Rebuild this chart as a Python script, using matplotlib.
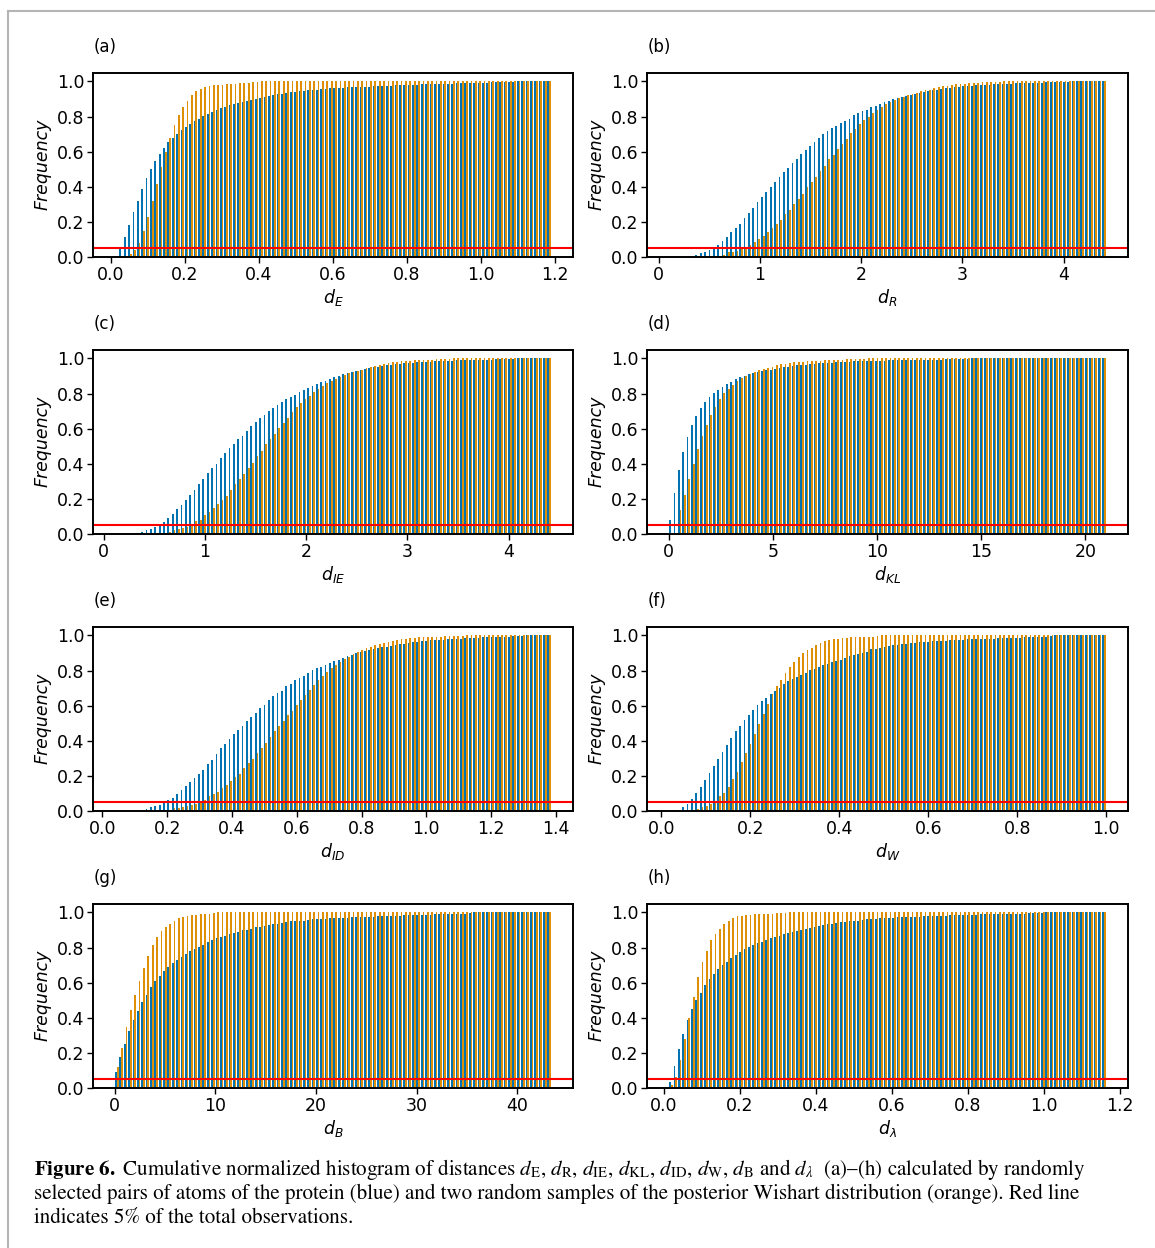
import numpy as np
import matplotlib
matplotlib.use("Agg")
import matplotlib.pyplot as plt
from matplotlib.lines import Line2D

# Cumulative normalized histograms (100 bins).
# blue = protein pairs, orange = posterior Wishart samples

# (a) d_E
a_range = (0.01, 1.19)
a_ticks = [0.0, 0.2, 0.4, 0.6, 0.8, 1.0, 1.2]
a_blue = [0.005, 0.047, 0.112, 0.180, 0.254, 0.320, 0.385, 0.448, 0.500, 0.545,
          0.585, 0.620, 0.652, 0.680, 0.703, 0.724, 0.740, 0.758, 0.774, 0.788,
          0.802, 0.815, 0.827, 0.838, 0.848, 0.856, 0.864, 0.871, 0.878, 0.885,
          0.891, 0.896, 0.902, 0.907, 0.912, 0.917, 0.921, 0.926, 0.930, 0.934,
          0.938, 0.941, 0.944, 0.947, 0.950, 0.952, 0.954, 0.956, 0.958, 0.960,
          0.962, 0.963, 0.964, 0.966, 0.967, 0.968, 0.969, 0.970, 0.971, 0.972,
          0.973, 0.974, 0.975, 0.976, 0.977, 0.978, 0.979, 0.980, 0.981, 0.982,
          0.983, 0.984, 0.985, 0.985, 0.986, 0.987, 0.988, 0.988, 0.989, 0.990,
          0.991, 0.991, 0.992, 0.993, 0.993, 0.994, 0.995, 0.996, 0.996, 0.997,
          0.998, 0.999, 1.000, 1.000, 1.000, 1.000, 1.000, 1.000, 1.000, 1.000]
a_orange = [0.000, 0.000, 0.000, 0.015, 0.040, 0.080, 0.146, 0.228, 0.320, 0.415,
            0.512, 0.597, 0.675, 0.750, 0.806, 0.852, 0.890, 0.920, 0.943, 0.958,
            0.967, 0.973, 0.977, 0.980, 0.982, 0.983, 0.985, 0.987, 0.990, 0.992,
            0.994, 0.996, 0.998, 1.000, 1.000, 1.000, 1.000, 1.000, 1.000, 1.000,
            1.000, 1.000, 1.000, 1.000, 1.000, 1.000, 1.000, 1.000, 1.000, 1.000,
            1.000, 1.000, 1.000, 1.000, 1.000, 1.000, 1.000, 1.000, 1.000, 1.000,
            1.000, 1.000, 1.000, 1.000, 1.000, 1.000, 1.000, 1.000, 1.000, 1.000,
            1.000, 1.000, 1.000, 1.000, 1.000, 1.000, 1.000, 1.000, 1.000, 1.000,
            1.000, 1.000, 1.000, 1.000, 1.000, 1.000, 1.000, 1.000, 1.000, 1.000,
            1.000, 1.000, 1.000, 1.000, 1.000, 1.000, 1.000, 1.000, 1.000, 1.000]

# (b) d_R
b_range = (0.10, 4.42)
b_ticks = [0, 1, 2, 3, 4]
b_blue = [0.000, 0.000, 0.000, 0.000, 0.000, 0.005, 0.008, 0.022, 0.028, 0.038,
          0.050, 0.066, 0.090, 0.112, 0.140, 0.163, 0.185, 0.220, 0.249, 0.277,
          0.311, 0.342, 0.368, 0.397, 0.425, 0.453, 0.482, 0.509, 0.533, 0.560,
          0.588, 0.611, 0.634, 0.655, 0.676, 0.698, 0.715, 0.732, 0.748, 0.761,
          0.774, 0.787, 0.806, 0.820, 0.829, 0.840, 0.852, 0.860, 0.871, 0.880,
          0.890, 0.898, 0.905, 0.911, 0.918, 0.924, 0.930, 0.935, 0.941, 0.945,
          0.949, 0.953, 0.956, 0.960, 0.964, 0.968, 0.970, 0.972, 0.973, 0.975,
          0.977, 0.979, 0.981, 0.982, 0.984, 0.985, 0.986, 0.987, 0.988, 0.989,
          0.990, 0.991, 0.992, 0.993, 0.993, 0.994, 0.995, 0.996, 0.997, 0.997,
          0.998, 0.999, 1.000, 1.000, 1.000, 1.000, 1.000, 1.000, 1.000, 1.000]
b_orange = [0.000, 0.000, 0.000, 0.000, 0.000, 0.000, 0.000, 0.000, 0.000, 0.000,
            0.000, 0.005, 0.010, 0.025, 0.027, 0.030, 0.042, 0.049, 0.065, 0.083,
            0.100, 0.118, 0.142, 0.163, 0.186, 0.209, 0.243, 0.266, 0.300, 0.330,
            0.360, 0.398, 0.425, 0.457, 0.490, 0.520, 0.556, 0.583, 0.613, 0.645,
            0.674, 0.706, 0.730, 0.759, 0.778, 0.797, 0.822, 0.839, 0.854, 0.869,
            0.880, 0.892, 0.903, 0.913, 0.920, 0.928, 0.935, 0.943, 0.949, 0.954,
            0.960, 0.966, 0.972, 0.975, 0.979, 0.983, 0.985, 0.987, 0.990, 0.992,
            0.994, 0.995, 0.996, 0.997, 0.998, 0.999, 1.000, 1.000, 1.000, 1.000,
            1.000, 1.000, 1.000, 1.000, 1.000, 1.000, 1.000, 1.000, 1.000, 1.000,
            1.000, 1.000, 1.000, 1.000, 1.000, 1.000, 1.000, 1.000, 1.000, 1.000]

# (c) d_IE
c_range = (0.11, 4.42)
c_ticks = [0, 1, 2, 3, 4]
c_blue = [0.000, 0.000, 0.000, 0.000, 0.000, 0.005, 0.007, 0.022, 0.027, 0.038,
          0.051, 0.066, 0.090, 0.114, 0.140, 0.161, 0.190, 0.220, 0.250, 0.283,
          0.311, 0.344, 0.374, 0.400, 0.433, 0.460, 0.488, 0.512, 0.539, 0.560,
          0.584, 0.617, 0.636, 0.660, 0.679, 0.698, 0.717, 0.734, 0.751, 0.767,
          0.778, 0.793, 0.808, 0.822, 0.831, 0.844, 0.854, 0.865, 0.873, 0.884,
          0.894, 0.901, 0.909, 0.915, 0.922, 0.928, 0.934, 0.939, 0.943, 0.949,
          0.953, 0.956, 0.960, 0.964, 0.968, 0.970, 0.972, 0.973, 0.975, 0.977,
          0.979, 0.980, 0.981, 0.983, 0.985, 0.986, 0.987, 0.988, 0.989, 0.989,
          0.990, 0.991, 0.991, 0.992, 0.992, 0.993, 0.994, 0.995, 0.996, 0.997,
          0.998, 0.999, 1.000, 1.000, 1.000, 1.000, 1.000, 1.000, 1.000, 1.000]
c_orange = [0.000, 0.000, 0.000, 0.000, 0.000, 0.000, 0.000, 0.000, 0.000, 0.000,
            0.000, 0.004, 0.008, 0.020, 0.025, 0.034, 0.040, 0.051, 0.072, 0.080,
            0.104, 0.123, 0.144, 0.167, 0.190, 0.216, 0.249, 0.281, 0.311, 0.338,
            0.374, 0.406, 0.442, 0.474, 0.510, 0.539, 0.569, 0.602, 0.630, 0.662,
            0.693, 0.721, 0.748, 0.770, 0.787, 0.810, 0.827, 0.844, 0.860, 0.873,
            0.884, 0.894, 0.905, 0.915, 0.922, 0.930, 0.937, 0.945, 0.953, 0.958,
            0.964, 0.970, 0.973, 0.977, 0.981, 0.983, 0.985, 0.987, 0.989, 0.990,
            0.992, 0.993, 0.994, 0.995, 0.996, 0.997, 0.998, 1.000, 1.000, 1.000,
            1.000, 1.000, 1.000, 1.000, 1.000, 1.000, 1.000, 1.000, 1.000, 1.000,
            1.000, 1.000, 1.000, 1.000, 1.000, 1.000, 1.000, 1.000, 1.000, 1.000]

# (d) d_KL
d_range = (0.0, 21.0)
d_ticks = [0, 5, 10, 15, 20]
d_blue = [0.078, 0.233, 0.362, 0.465, 0.550, 0.619, 0.670, 0.715, 0.750, 0.778,
          0.801, 0.822, 0.839, 0.852, 0.867, 0.880, 0.892, 0.901, 0.909, 0.916,
          0.922, 0.928, 0.934, 0.937, 0.941, 0.945, 0.949, 0.953, 0.956, 0.960,
          0.962, 0.965, 0.968, 0.970, 0.972, 0.973, 0.974, 0.975, 0.977, 0.979,
          0.981, 0.982, 0.983, 0.984, 0.984, 0.985, 0.986, 0.987, 0.988, 0.988,
          0.989, 0.989, 0.990, 0.990, 0.990, 0.990, 0.991, 0.991, 0.991, 0.992,
          0.992, 0.993, 0.994, 0.995, 0.995, 0.996, 0.997, 0.998, 0.999, 1.000,
          1.000, 1.000, 1.000, 1.000, 1.000, 1.000, 1.000, 1.000, 1.000, 1.000,
          1.000, 1.000, 1.000, 1.000, 1.000, 1.000, 1.000, 1.000, 1.000, 1.000,
          1.000, 1.000, 1.000, 1.000, 1.000, 1.000, 1.000, 1.000, 1.000, 1.000]
d_orange = [0.000, 0.000, 0.135, 0.220, 0.310, 0.400, 0.482, 0.556, 0.619, 0.675,
            0.721, 0.767, 0.801, 0.826, 0.848, 0.869, 0.886, 0.900, 0.911, 0.922,
            0.932, 0.939, 0.947, 0.954, 0.960, 0.966, 0.970, 0.974, 0.977, 0.980,
            0.982, 0.984, 0.986, 0.987, 0.988, 0.990, 0.991, 0.992, 0.993, 0.994,
            0.995, 0.996, 0.997, 0.998, 0.999, 1.000, 1.000, 1.000, 1.000, 1.000,
            1.000, 1.000, 1.000, 1.000, 1.000, 1.000, 1.000, 1.000, 1.000, 1.000,
            1.000, 1.000, 1.000, 1.000, 1.000, 1.000, 1.000, 1.000, 1.000, 1.000,
            1.000, 1.000, 1.000, 1.000, 1.000, 1.000, 1.000, 1.000, 1.000, 1.000,
            1.000, 1.000, 1.000, 1.000, 1.000, 1.000, 1.000, 1.000, 1.000, 1.000,
            1.000, 1.000, 1.000, 1.000, 1.000, 1.000, 1.000, 1.000, 1.000, 1.000]

# (e) d_ID
e_range = (0.038, 1.386)
e_ticks = [0.0, 0.2, 0.4, 0.6, 0.8, 1.0, 1.2, 1.4]
e_blue = [0.000, 0.000, 0.000, 0.000, 0.000, 0.000, 0.003, 0.007, 0.020, 0.027,
          0.032, 0.044, 0.061, 0.070, 0.095, 0.120, 0.140, 0.161, 0.186, 0.207,
          0.235, 0.268, 0.292, 0.323, 0.355, 0.382, 0.410, 0.440, 0.461, 0.486,
          0.510, 0.537, 0.558, 0.584, 0.605, 0.630, 0.653, 0.670, 0.685, 0.710,
          0.725, 0.744, 0.757, 0.770, 0.786, 0.801, 0.814, 0.822, 0.833, 0.843,
          0.854, 0.862, 0.871, 0.880, 0.890, 0.898, 0.905, 0.911, 0.916, 0.922,
          0.928, 0.934, 0.937, 0.941, 0.945, 0.949, 0.953, 0.956, 0.960, 0.964,
          0.968, 0.970, 0.972, 0.973, 0.973, 0.975, 0.977, 0.979, 0.981, 0.982,
          0.983, 0.985, 0.987, 0.988, 0.989, 0.990, 0.990, 0.991, 0.992, 0.993,
          0.994, 0.995, 0.996, 0.998, 1.000, 1.000, 1.000, 1.000, 1.000, 1.000]
e_orange = [0.000, 0.000, 0.000, 0.000, 0.000, 0.000, 0.000, 0.000, 0.000, 0.000,
            0.000, 0.000, 0.003, 0.013, 0.015, 0.020, 0.027, 0.030, 0.040, 0.050,
            0.063, 0.083, 0.095, 0.108, 0.131, 0.144, 0.169, 0.194, 0.212, 0.243,
            0.270, 0.294, 0.330, 0.359, 0.387, 0.421, 0.455, 0.482, 0.512, 0.545,
            0.571, 0.602, 0.630, 0.658, 0.689, 0.719, 0.744, 0.767, 0.789, 0.812,
            0.829, 0.848, 0.863, 0.879, 0.892, 0.905, 0.918, 0.928, 0.935, 0.943,
            0.951, 0.956, 0.962, 0.968, 0.973, 0.977, 0.981, 0.983, 0.987, 0.989,
            0.990, 0.991, 0.992, 0.993, 0.994, 0.995, 0.996, 0.997, 0.998, 0.999,
            1.000, 1.000, 1.000, 1.000, 1.000, 1.000, 1.000, 1.000, 1.000, 1.000,
            1.000, 1.000, 1.000, 1.000, 1.000, 1.000, 1.000, 1.000, 1.000, 1.000]

# (f) d_W
f_range = (0.017, 1.0)
f_ticks = [0.0, 0.2, 0.4, 0.6, 0.8, 1.0]
f_blue = [0.000, 0.000, 0.005, 0.020, 0.038, 0.066, 0.100, 0.135, 0.177, 0.214,
          0.254, 0.294, 0.336, 0.374, 0.415, 0.452, 0.482, 0.516, 0.548, 0.573,
          0.602, 0.624, 0.645, 0.664, 0.683, 0.702, 0.721, 0.738, 0.753, 0.765,
          0.776, 0.787, 0.803, 0.810, 0.822, 0.829, 0.839, 0.848, 0.856, 0.862,
          0.873, 0.884, 0.890, 0.896, 0.901, 0.907, 0.920, 0.924, 0.930, 0.934,
          0.939, 0.943, 0.947, 0.949, 0.953, 0.956, 0.958, 0.960, 0.962, 0.964,
          0.966, 0.968, 0.970, 0.971, 0.972, 0.973, 0.975, 0.976, 0.977, 0.978,
          0.979, 0.980, 0.981, 0.982, 0.982, 0.983, 0.984, 0.985, 0.987, 0.988,
          0.988, 0.989, 0.990, 0.991, 0.992, 0.993, 0.994, 0.996, 1.000, 1.000,
          1.000, 1.000, 1.000, 1.000, 1.000, 1.000, 1.000, 1.000, 1.000, 1.000]
f_orange = [0.000, 0.000, 0.000, 0.000, 0.000, 0.003, 0.010, 0.020, 0.024, 0.038,
            0.057, 0.082, 0.100, 0.135, 0.180, 0.222, 0.277, 0.330, 0.382, 0.436,
            0.493, 0.554, 0.607, 0.664, 0.710, 0.748, 0.786, 0.822, 0.850, 0.877,
            0.898, 0.915, 0.930, 0.945, 0.956, 0.966, 0.973, 0.977, 0.981, 0.983,
            0.987, 0.989, 0.990, 0.990, 0.992, 0.992, 0.994, 0.996, 1.000, 1.000,
            1.000, 1.000, 1.000, 1.000, 1.000, 1.000, 1.000, 1.000, 1.000, 1.000,
            1.000, 1.000, 1.000, 1.000, 1.000, 1.000, 1.000, 1.000, 1.000, 1.000,
            1.000, 1.000, 1.000, 1.000, 1.000, 1.000, 1.000, 1.000, 1.000, 1.000,
            1.000, 1.000, 1.000, 1.000, 1.000, 1.000, 1.000, 1.000, 1.000, 1.000,
            1.000, 1.000, 1.000, 1.000, 1.000, 1.000, 1.000, 1.000, 1.000, 1.000]

# (g) d_B
g_range = (0.0, 43.4)
g_ticks = [0, 10, 20, 30, 40]
g_blue = [0.089, 0.176, 0.249, 0.323, 0.386, 0.436, 0.490, 0.531, 0.573, 0.607,
          0.636, 0.664, 0.687, 0.713, 0.729, 0.748, 0.765, 0.778, 0.793, 0.805,
          0.816, 0.829, 0.841, 0.852, 0.860, 0.867, 0.875, 0.882, 0.890, 0.898,
          0.901, 0.907, 0.915, 0.918, 0.922, 0.928, 0.934, 0.937, 0.939, 0.945,
          0.949, 0.951, 0.953, 0.954, 0.958, 0.960, 0.961, 0.962, 0.964, 0.966,
          0.968, 0.969, 0.970, 0.971, 0.972, 0.972, 0.973, 0.974, 0.975, 0.976,
          0.977, 0.978, 0.979, 0.980, 0.981, 0.982, 0.983, 0.984, 0.985, 0.986,
          0.987, 0.988, 0.988, 0.989, 0.989, 0.990, 0.990, 0.991, 0.992, 0.993,
          0.994, 0.996, 1.000, 1.000, 1.000, 1.000, 1.000, 1.000, 1.000, 1.000,
          1.000, 1.000, 1.000, 1.000, 1.000, 1.000, 1.000, 1.000, 1.000, 1.000]
g_orange = [0.118, 0.228, 0.345, 0.442, 0.531, 0.611, 0.685, 0.753, 0.812, 0.858,
            0.892, 0.918, 0.935, 0.951, 0.966, 0.973, 0.979, 0.983, 0.987, 0.989,
            0.990, 0.992, 0.995, 1.000, 1.000, 1.000, 1.000, 1.000, 1.000, 1.000,
            1.000, 1.000, 1.000, 1.000, 1.000, 1.000, 1.000, 1.000, 1.000, 1.000,
            1.000, 1.000, 1.000, 1.000, 1.000, 1.000, 1.000, 1.000, 1.000, 1.000,
            1.000, 1.000, 1.000, 1.000, 1.000, 1.000, 1.000, 1.000, 1.000, 1.000,
            1.000, 1.000, 1.000, 1.000, 1.000, 1.000, 1.000, 1.000, 1.000, 1.000,
            1.000, 1.000, 1.000, 1.000, 1.000, 1.000, 1.000, 1.000, 1.000, 1.000,
            1.000, 1.000, 1.000, 1.000, 1.000, 1.000, 1.000, 1.000, 1.000, 1.000,
            1.000, 1.000, 1.000, 1.000, 1.000, 1.000, 1.000, 1.000, 1.000, 1.000]

# (h) d_lambda
h_range = (0.0135, 1.165)
h_ticks = [0.0, 0.2, 0.4, 0.6, 0.8, 1.0, 1.2]
h_blue = [0.030, 0.123, 0.220, 0.304, 0.385, 0.448, 0.500, 0.543, 0.584, 0.619,
          0.647, 0.675, 0.698, 0.719, 0.740, 0.759, 0.774, 0.789, 0.801, 0.812,
          0.824, 0.833, 0.843, 0.852, 0.860, 0.867, 0.875, 0.882, 0.888, 0.896,
          0.901, 0.907, 0.913, 0.918, 0.922, 0.928, 0.932, 0.935, 0.939, 0.943,
          0.947, 0.949, 0.953, 0.954, 0.958, 0.960, 0.962, 0.964, 0.966, 0.967,
          0.968, 0.970, 0.972, 0.972, 0.973, 0.974, 0.975, 0.976, 0.977, 0.978,
          0.979, 0.980, 0.981, 0.982, 0.983, 0.984, 0.985, 0.986, 0.987, 0.988,
          0.988, 0.989, 0.989, 0.990, 0.990, 0.991, 0.991, 0.992, 0.992, 0.993,
          0.994, 0.994, 0.995, 0.996, 0.997, 0.998, 1.000, 1.000, 1.000, 1.000,
          1.000, 1.000, 1.000, 1.000, 1.000, 1.000, 1.000, 1.000, 1.000, 1.000]
h_orange = [0.015, 0.061, 0.158, 0.277, 0.398, 0.520, 0.630, 0.715, 0.778, 0.841,
            0.875, 0.907, 0.934, 0.954, 0.968, 0.977, 0.981, 0.985, 0.987, 0.989,
            0.990, 0.992, 0.993, 0.994, 0.995, 0.996, 0.998, 1.000, 1.000, 1.000,
            1.000, 1.000, 1.000, 1.000, 1.000, 1.000, 1.000, 1.000, 1.000, 1.000,
            1.000, 1.000, 1.000, 1.000, 1.000, 1.000, 1.000, 1.000, 1.000, 1.000,
            1.000, 1.000, 1.000, 1.000, 1.000, 1.000, 1.000, 1.000, 1.000, 1.000,
            1.000, 1.000, 1.000, 1.000, 1.000, 1.000, 1.000, 1.000, 1.000, 1.000,
            1.000, 1.000, 1.000, 1.000, 1.000, 1.000, 1.000, 1.000, 1.000, 1.000,
            1.000, 1.000, 1.000, 1.000, 1.000, 1.000, 1.000, 1.000, 1.000, 1.000,
            1.000, 1.000, 1.000, 1.000, 1.000, 1.000, 1.000, 1.000, 1.000, 1.000]

panel_tags = ["(a)", "(b)", "(c)", "(d)", "(e)", "(f)", "(g)", "(h)"]
panel_xlabels = [r"$d_E$", r"$d_R$", r"$d_{IE}$", r"$d_{KL}$",
                 r"$d_{ID}$", r"$d_W$", r"$d_B$", r"$d_{\lambda}$"]
threshold = 0.05

caption_lines = [
    r"$\mathbf{Figure\ 6.}$ Cumulative normalized histogram of distances "
    r"$d_{\mathrm{E}}$, $d_{\mathrm{R}}$, $d_{\mathrm{IE}}$, $d_{\mathrm{KL}}$, "
    r"$d_{\mathrm{ID}}$, $d_{\mathrm{W}}$, $d_{\mathrm{B}}$ and $d_{\lambda}$ "
    r" (a)–(h) calculated by randomly",
    "selected pairs of atoms of the protein (blue) and two random samples of "
    "the posterior Wishart distribution (orange). Red line",
    "indicates 5% of the total observations.",
]

BLUE = "#0173b2"
ORANGE = "#de8f05"


def draw_panel(ax, tag, xlabel, rng, ticks, blue, orange):
    edges = np.linspace(rng[0], rng[1], len(blue) + 1)
    centers = 0.5 * (edges[:-1] + edges[1:])
    # bar heights are the cumulative frequencies, so pass them as weights
    ax.hist([centers, centers], bins=edges, weights=[blue, orange],
            color=[BLUE, ORANGE])
    ax.axhline(threshold, color="red", lw=1.5)
    ax.set_xticks(ticks)
    ax.set_yticks([0.0, 0.2, 0.4, 0.6, 0.8, 1.0])
    ax.set_ylabel("Frequency", style="italic")
    ax.set_xlabel(xlabel, labelpad=2)
    ax.set_title(tag, loc="left", pad=15, fontsize=12)
    ax.tick_params(length=4.5, width=1.0, pad=2)
    for sp in ax.spines.values():
        sp.set_linewidth(1.4)


def main():
    plt.rcParams["font.size"] = 12.5
    fig = plt.figure(figsize=(11.55, 12.48), dpi=100)

    W, H = 1155.0, 1248.0
    lefts = [93.3, 647.3]
    widths = [479.4, 480.4]
    tops = [72.7, 349.7, 626.7, 903.7]
    ax_h = 184.0

    data = [
        (a_range, a_ticks, a_blue, a_orange),
        (b_range, b_ticks, b_blue, b_orange),
        (c_range, c_ticks, c_blue, c_orange),
        (d_range, d_ticks, d_blue, d_orange),
        (e_range, e_ticks, e_blue, e_orange),
        (f_range, f_ticks, f_blue, f_orange),
        (g_range, g_ticks, g_blue, g_orange),
        (h_range, h_ticks, h_blue, h_orange),
    ]

    for k, (rng, ticks, blue, orange) in enumerate(data):
        row, col = divmod(k, 2)
        rect = [lefts[col] / W, 1 - (tops[row] + ax_h) / H,
                widths[col] / W, ax_h / H]
        ax = fig.add_axes(rect)
        draw_panel(ax, panel_tags[k], panel_xlabels[k], rng, ticks, blue, orange)

    # caption under the panels
    for i, line in enumerate(caption_lines):
        fig.text(34 / W, 1 - (1175 + 23.8 * i) / H, line,
                 fontsize=15.1, family="STIXGeneral", math_fontfamily="stix",
                 va="baseline", ha="left")

    # grey page frame (top and left edges)
    fig.add_artist(Line2D([8 / W, 8 / W], [0, 1 - 11 / H], color="#b4b4b4", lw=1.5))
    fig.add_artist(Line2D([8 / W, 1], [1 - 11 / H, 1 - 11 / H], color="#b4b4b4", lw=1.5))

    fig.savefig("out.png", dpi=100)


if __name__ == "__main__":
    main()
